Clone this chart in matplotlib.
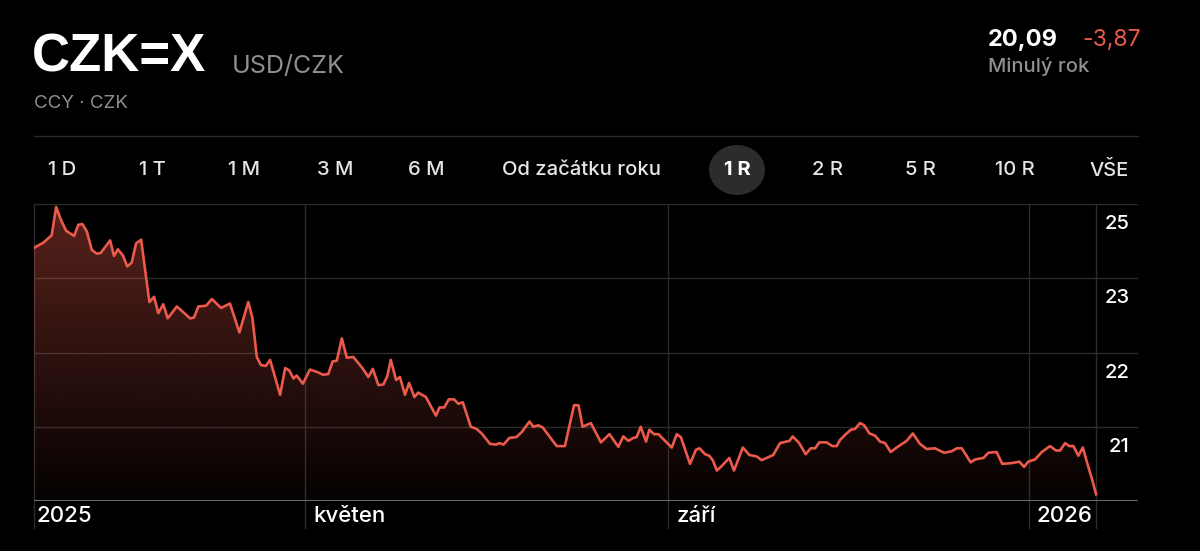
import numpy as np
import pandas as pd
import matplotlib.pyplot as plt
import matplotlib.dates as mdates
from matplotlib.colors import to_rgb
from matplotlib.patches import PathPatch, Ellipse

# USD/CZK over the last year, days counted from the first point (29 Jan 2025)
start = pd.Timestamp('2025-01-29')
days = [0.0, 3.2, 4.9, 6.0, 7.5, 9.2, 10.9, 13.6, 15.0, 16.4, 17.9, 19.6, 21.3, 22.6,
        24.1, 25.8, 27.1, 28.4, 30.1, 31.6, 33.1, 34.6, 36.3, 37.6, 39.1, 40.7, 42.1,
        43.8, 45.3, 48.4, 52.9, 54.2, 55.7, 58.3, 60.3, 63.4, 66.4, 69.6, 72.6, 74.0,
        75.5, 76.9, 78.6, 80.0, 83.4, 85.1, 86.5, 87.9, 89.0, 91.1, 93.5, 95.8, 98.0,
        99.7, 101.2, 102.6, 104.3, 106.0, 108.2, 111.1, 113.3, 114.8, 116.7, 118.4,
        119.7, 120.9, 122.7, 124.0, 125.7, 127.1, 128.9, 130.2, 132.8, 136.2, 137.4,
        139.0, 140.6, 142.3, 143.8, 145.3, 148.0, 150.0, 151.7, 154.5, 156.6, 157.7,
        159.1, 161.1, 163.4, 165.3, 167.9, 169.2, 170.9, 172.4, 177.1, 179.9, 183.0,
        184.5, 185.9, 188.7, 192.1, 195.0, 198.0, 199.7, 201.4, 203.1, 204.2, 205.6,
        207.4, 208.5, 210.1, 211.6, 216.1, 217.8, 219.2, 222.3, 224.3, 225.5, 227.4,
        228.8, 230.0, 231.4, 233.0, 235.6, 237.2, 240.2, 242.4, 244.9, 246.6, 248.8,
        250.5, 252.8, 256.0, 257.1, 259.3, 261.5, 263.2, 264.7, 266.1, 268.6, 270.5,
        272.0, 273.1, 274.8, 276.8, 278.2, 279.9, 281.3, 283.1, 285.0, 286.7, 288.4,
        290.3, 292.3, 295.7, 297.8, 300.2, 302.5, 305.3, 308.4, 311.0, 312.7, 314.4,
        317.4, 318.9, 321.7, 323.4, 326.2, 328.1, 331.3, 333.9, 335.5, 336.9, 339.2,
        341.5, 344.3, 346.3, 347.7, 349.4, 350.8, 352.2, 353.9, 355.4, 356.9, 358.4,
        359.9]
rate = [23.41, 23.48, 23.54, 23.58, 23.96, 23.78, 23.64, 23.57, 23.72, 23.73, 23.63,
        23.38, 23.33, 23.34, 23.42, 23.51, 23.30, 23.39, 23.31, 23.16, 23.21, 23.47,
        23.52, 23.13, 22.68, 22.75, 22.53, 22.65, 22.46, 22.62, 22.46, 22.47, 22.62,
        22.63, 22.72, 22.60, 22.66, 22.27, 22.68, 22.47, 21.94, 21.83, 21.82, 21.90,
        21.43, 21.79, 21.76, 21.65, 21.69, 21.58, 21.77, 21.74, 21.70, 21.71, 21.88,
        21.89, 22.19, 21.93, 21.94, 21.80, 21.67, 21.78, 21.56, 21.57, 21.68, 21.90,
        21.63, 21.67, 21.43, 21.59, 21.40, 21.46, 21.40, 21.15, 21.26, 21.26, 21.37,
        21.37, 21.31, 21.33, 21.00, 20.97, 20.91, 20.77, 20.76, 20.78, 20.76, 20.85,
        20.86, 20.93, 21.07, 21.00, 21.02, 20.99, 20.74, 20.74, 21.29, 21.29, 21.00,
        21.05, 20.79, 20.90, 20.73, 20.87, 20.81, 20.85, 20.86, 21.00, 20.80, 20.96,
        20.90, 20.90, 20.72, 20.90, 20.86, 20.50, 20.69, 20.71, 20.63, 20.61, 20.55,
        20.41, 20.47, 20.58, 20.41, 20.72, 20.62, 20.60, 20.55, 20.59, 20.62, 20.78,
        20.81, 20.87, 20.78, 20.63, 20.71, 20.71, 20.79, 20.79, 20.74, 20.74, 20.82,
        20.89, 20.96, 20.97, 21.05, 21.02, 20.91, 20.88, 20.80, 20.78, 20.66, 20.72,
        20.81, 20.91, 20.77, 20.70, 20.71, 20.65, 20.67, 20.71, 20.71, 20.52, 20.56,
        20.58, 20.65, 20.66, 20.50, 20.51, 20.53, 20.46, 20.53, 20.56, 20.66, 20.74,
        20.68, 20.68, 20.78, 20.74, 20.74, 20.61, 20.72, 20.51, 20.31, 20.09]

grid_levels = [21, 22, 23, 24]
y_labels = ['25', '23', '22', '21']
x_label_dates = ['2025-01-29', '2025-05-01', '2025-09-01', '2026-01-01']
x_labels = ['2025', 'květen', 'září', '2026']
tabs = ['1 D', '1 T', '1 M', '3 M', '6 M', 'Od začátku roku', '1 R', '2 R', '5 R', '10 R', 'VŠE']
tab_x = [62, 152, 244, 335, 426, 581, 737, 828, 920, 1015, 1109]
active_tab = '1 R'

line_color = '#ec5a4b'
grid_color = '#2b2b2b'
grey = '#8e8e93'

plt.rcParams['font.family'] = ['Inter', 'DejaVu Sans']

W, H = 1200, 551
fig = plt.figure(figsize=(W / 100, H / 100), dpi=100, facecolor='black')


def px(x, y):
    return x / W, 1 - y / H


# header
fig.text(*px(32, 58), 'CZK=X', color='white', fontsize=38, fontweight='bold',
         family=['Liberation Sans', 'DejaVu Sans'], va='center')
fig.text(*px(232, 66), 'USD/CZK', color=grey, fontsize=18, va='center')
fig.text(*px(34, 104), 'CCY · CZK', color=grey, fontsize=13.5, va='center')
fig.text(*px(988, 40), '20,09', color='white', fontsize=17, fontweight='bold', va='center')
fig.text(*px(1082, 40), '-3,87', color=line_color, fontsize=16.5, va='center')
fig.text(*px(988, 67), 'Minulý rok', color=grey, fontsize=14.5, fontweight='medium', va='center')

fig.add_artist(plt.Line2D([34 / W, 1138 / W], [1 - 136 / H] * 2, color=grid_color, lw=1))

# range tabs
for label, xc in zip(tabs, tab_x):
    if label == active_tab:
        fig.add_artist(Ellipse((xc / 100, (H - 170) / 100), 0.56, 0.50,
                               facecolor='#2c2c2e', edgecolor='none',
                               transform=fig.dpi_scale_trans))
        fig.text(*px(xc, 170), label, color='white', fontsize=14.5, fontweight='bold',
                 ha='center', va='center')
    else:
        fig.text(*px(xc, 170), label, color='#e6e6e6', fontsize=14.5, fontweight='medium',
                 ha='center', va='center')

# chart
ax = fig.add_axes([34 / W, 1 - 501 / H, 1104 / W, 297 / H])
ax.set_facecolor('black')
for s in ax.spines.values():
    s.set_visible(False)

dates = start + pd.to_timedelta(days, unit='D')
x = mdates.date2num(dates)

poly = ax.fill_between(x, rate, 20, color='none', lw=0)
rgba = np.zeros((256, 1, 4))
rgba[..., :3] = to_rgb(line_color)
rgba[..., 3] = np.linspace(0.02, 0.38, 256)[:, None]
im = ax.imshow(rgba, extent=[x[0], x[-1], 20, 24], origin='lower', aspect='auto', zorder=1)
clip = PathPatch(poly.get_paths()[0], facecolor='none', edgecolor='none', transform=ax.transData)
ax.add_patch(clip)
im.set_clip_path(clip)

ax.plot(x, rate, color=line_color, lw=1.9, zorder=3, solid_joinstyle='round')

for lv in grid_levels:
    ax.axhline(lv, color=grid_color, lw=1, zorder=0)
ax.axhline(20, color='#6a6a6a', lw=1.5, zorder=4)

vlines = [mdates.date2num(pd.Timestamp(d)) for d in x_label_dates] + [x[-1]]
for v in vlines:
    ax.axvline(v, ymin=-0.09, ymax=1, color=grid_color, lw=1, zorder=0, clip_on=False)

for lv, lab in zip(grid_levels[::-1], y_labels):
    ax.text(0.9925, lv - 0.27, lab, transform=ax.get_yaxis_transform(), color='white',
            fontsize=14.5, fontweight='medium', ha='right', va='center')

for d, lab in zip(x_label_dates, x_labels):
    off = 2 if lab == '2025' else 8
    ax.annotate(lab, xy=(mdates.date2num(pd.Timestamp(d)), 0),
                xycoords=('data', 'axes fraction'), xytext=(off, -15),
                textcoords='offset pixels', color='white', fontsize=16,
                fontweight='medium', ha='left', va='center')

ax.set_xlim(x[0], x[0] + 374.1)
ax.set_ylim(20, 24)
ax.set_xticks([])
ax.set_yticks([])

fig.savefig('out.png', dpi=100, facecolor='black')
